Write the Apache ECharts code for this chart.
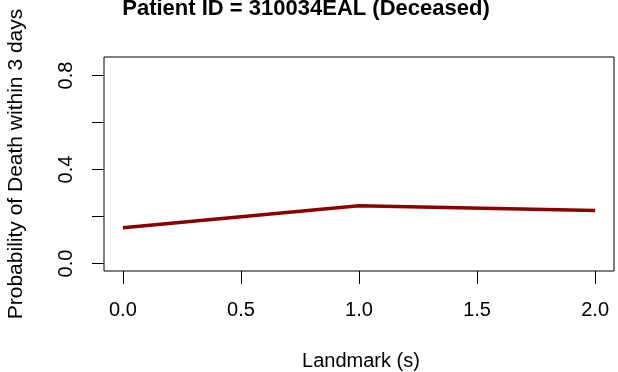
<!DOCTYPE html>
<html>
<head>
<meta charset="utf-8">
<script src="https://cdn.jsdelivr.net/npm/echarts@6/dist/echarts.min.js"></script>
<style>html,body{margin:0;padding:0;background:#fff;}#c{width:618px;height:372px;}</style>
</head>
<body>
<div id="c"></div>
<script>
const titleText = 'Patient ID = 310034EAL (Deceased)';
const xTitle = 'Landmark (s)';
const yTitle = 'Probability of Death within 3 days';
const landmarks = [0, 1, 2];
const probDeath = [0.152, 0.246, 0.226];
const xTicks = [0, 0.5, 1, 1.5, 2];
const yTicks = [0, 0.2, 0.4, 0.6, 0.8];
const yLabelTicks = [0, 0.4, 0.8];

const font = 'Liberation Sans, Arial, Helvetica, sans-serif';
const chart = echarts.init(document.getElementById('c'), null, {renderer: 'canvas'});
chart.setOption({
  animation: false,
  backgroundColor: '#fff',
  grid: {left: 104, right: 4, top: 57, bottom: 101, show: true, borderColor: '#000', borderWidth: 1, backgroundColor: 'transparent'},
  xAxis: {
    type: 'value', min: -0.08, max: 2.08,
    axisLine: {show: false, onZero: false},
    splitLine: {show: false},
    axisTick: {show: true, inside: false, length: 13, customValues: xTicks, lineStyle: {color: '#000', width: 1}},
    axisLabel: {customValues: xTicks, margin: 29, fontSize: 20, fontFamily: font, color: '#000',
      formatter: v => v.toFixed(1)}
  },
  yAxis: {
    type: 'value', min: -0.032, max: 0.879,
    axisLine: {show: false, onZero: false},
    splitLine: {show: false},
    axisTick: {show: true, inside: false, length: 12, customValues: yTicks, lineStyle: {color: '#000', width: 1}},
    axisLabel: {customValues: yLabelTicks, rotate: 90, margin: 28, fontSize: 20, fontFamily: font, color: '#000',
      formatter: v => v.toFixed(1)}
  },
  series: [{
    type: 'line',
    data: landmarks.map((x, i) => [x, probDeath[i]]),
    showSymbol: false,
    lineStyle: {color: '#8B0000', width: 3.5},
    itemStyle: {color: '#8B0000'}
  }],
  graphic: [
    {type: 'text', x: 306, y: 20, style: {text: titleText, font: 'bold 22px ' + font, fill: '#000', textAlign: 'center', textVerticalAlign: 'bottom'}},
    {type: 'text', x: 361, y: 371, style: {text: xTitle, font: '20px ' + font, fill: '#000', textAlign: 'center', textVerticalAlign: 'bottom'}},
    {type: 'text', x: 27, y: 164, rotation: Math.PI / 2, style: {text: yTitle, font: '21px ' + font, fill: '#000', textAlign: 'center', textVerticalAlign: 'bottom'}}
  ]
});
</script>
</body>
</html>
